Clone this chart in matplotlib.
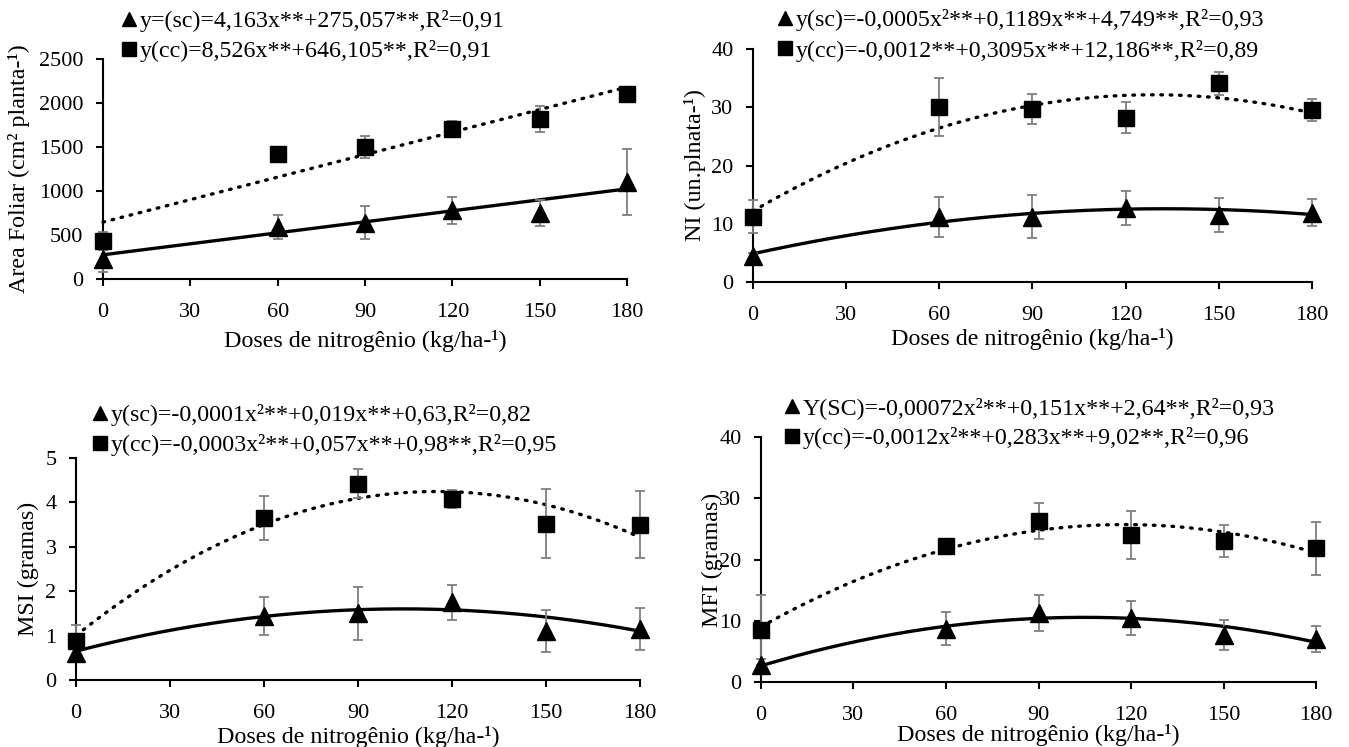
import numpy as np
import matplotlib
matplotlib.use('Agg')
import matplotlib.pyplot as plt
from matplotlib.lines import Line2D

plt.rcParams['font.family'] = ['Liberation Serif', 'DejaVu Serif']
plt.rcParams['font.size'] = 17.3

# doses de N (kg/ha)
doses = [0, 60, 90, 120, 150, 180]

# Area foliar
af_sc = [230, 590, 640, 780, 750, 1100]
af_sc_err = [150, 140, 185, 150, 150, 375]
af_cc = [430, 1420, 1500, 1710, 1820, 2100]
af_cc_err = [100, 30, 130, 80, 150, 40]
af_sc_coef = [4.163, 275.057]
af_cc_coef = [8.526, 646.105]

# NI
ni_sc = [4.5, 11.2, 11.2, 12.7, 11.5, 11.9]
ni_sc_err = [0.5, 3.4, 3.7, 2.9, 3.0, 2.3]
ni_cc = [11.2, 30.1, 29.7, 28.2, 34.1, 29.5]
ni_cc_err = [2.8, 5.0, 2.6, 2.7, 2.0, 1.9]
ni_sc_coef = [-0.00044, 0.1166, 4.85]
ni_cc_coef = [-0.0012, 0.3095, 12.186]

# MSI
msi_sc = [0.6, 1.45, 1.5, 1.75, 1.1, 1.15]
msi_sc_err = [0.1, 0.43, 0.6, 0.4, 0.47, 0.48]
msi_cc = [0.87, 3.65, 4.42, 4.08, 3.52, 3.5]
msi_cc_err = [0.37, 0.49, 0.33, 0.2, 0.78, 0.76]
msi_sc_coef = [-0.0000875, 0.01825, 0.65]
msi_cc_coef = [-0.000245, 0.0564, 1.0]

# MFI
mfi_sc = [2.7, 8.7, 11.3, 10.4, 7.7, 7.0]
mfi_sc_err = [1.1, 2.7, 2.9, 2.75, 2.5, 2.1]
mfi_cc = [8.5, 22.2, 26.3, 24.0, 23.0, 21.8]
mfi_cc_err = [5.7, 0.5, 3.0, 3.85, 2.6, 4.4]
mfi_sc_coef = [-0.00072, 0.151, 2.64]
mfi_cc_coef = [-0.0012, 0.283, 9.02]

fig = plt.figure(figsize=(13.49, 7.47), dpi=100)

paineis = [
    dict(rect=[0.07635, 0.62651, 0.38843, 0.29451], sc=af_sc, sce=af_sc_err, cc=af_cc, cce=af_cc_err,
         csc=af_sc_coef, ccc=af_cc_coef, ylim=(0, 2500), yt=[0, 500, 1000, 1500, 2000, 2500],
         ylabel='Area Foliar (cm² planta-¹)', ylx=-0.139, xly=-0.232,
         leg=(0.0904, 0.9866),
         l1='y=(sc)=4,163x**+275,057**,R²=0,91', l2='y(cc)=8,526x**+646,105**,R²=0,91'),
    dict(rect=[0.55819, 0.62249, 0.41438, 0.31191], sc=ni_sc, sce=ni_sc_err, cc=ni_cc, cce=ni_cc_err,
         csc=ni_sc_coef, ccc=ni_cc_coef, ylim=(0, 40), yt=[0, 10, 20, 30, 40],
         ylabel='NI (un.plnata-¹)', ylx=-0.084, xly=-0.197,
         leg=(0.5767, 0.9876),
         l1='y(sc)=-0,0005x²**+0,1189x**+4,749**,R²=0,93', l2='y(cc)=-0,0012**+0,3095x**+12,186**,R²=0,89'),
    dict(rect=[0.05634, 0.08969, 0.41809, 0.29719], sc=msi_sc, sce=msi_sc_err, cc=msi_cc, cce=msi_cc_err,
         csc=msi_sc_coef, ccc=msi_cc_coef, ylim=(0, 5), yt=[0, 1, 2, 3, 4, 5],
         ylabel='MSI (gramas)', ylx=-0.066, xly=-0.205,
         leg=(0.0689, 0.4591),
         l1='y(sc)=-0,0001x²**+0,019x**+0,63,R²=0,82', l2='y(cc)=-0,0003x²**+0,057x**+0,98**,R²=0,95'),
    dict(rect=[0.56412, 0.0870, 0.41142, 0.32798], sc=mfi_sc, sce=mfi_sc_err, cc=mfi_cc, cce=mfi_cc_err,
         csc=mfi_sc_coef, ccc=mfi_cc_coef, ylim=(0, 40), yt=[0, 10, 20, 30, 40],
         ylabel='MFI (gramas)', ylx=-0.068, xly=-0.172,
         leg=(0.5819, 0.4685),
         l1='Y(SC)=-0,00072x²**+0,151x**+2,64**,R²=0,93', l2='y(cc)=-0,0012x²**+0,283x**+9,02**,R²=0,96'),
]

xx = np.linspace(0, 180, 200)

for p in paineis:
    ax = fig.add_axes(p['rect'])
    # linhas de tendencia
    ax.plot(xx, np.polyval(p['csc'], xx), color='black', lw=2.4, zorder=2, clip_on=False)
    ax.plot(xx, np.polyval(p['ccc'], xx), color='black', lw=2.4, linestyle=(0, (0.5, 2.3)),
            dash_capstyle='round', zorder=2, clip_on=False)
    # barras de erro
    ax.errorbar(doses, p['sc'], yerr=p['sce'], fmt='none', ecolor='#7f7f7f', elinewidth=1.3,
                capsize=3.5, capthick=1.3, zorder=3, clip_on=False)
    ax.errorbar(doses, p['cc'], yerr=p['cce'], fmt='none', ecolor='#7f7f7f', elinewidth=1.3,
                capsize=3.5, capthick=1.3, zorder=3, clip_on=False)
    # pontos
    ax.plot(doses, p['sc'], '^', color='black', markersize=13.5, zorder=4, clip_on=False)
    ax.plot(doses, p['cc'], 's', color='black', markersize=12, zorder=4, clip_on=False)

    ax.set_xlim(0, 180)
    ax.set_ylim(*p['ylim'])
    ax.set_xticks([0, 30, 60, 90, 120, 150, 180])
    ax.set_yticks(p['yt'])
    for s in ['top', 'right']:
        ax.spines[s].set_visible(False)
    ax.spines['left'].set_linewidth(1.5)
    ax.spines['bottom'].set_linewidth(1.5)
    ax.tick_params(direction='out', length=5, width=1.5, labelsize=16)
    ax.tick_params(axis='x', pad=12)
    ax.tick_params(axis='y', pad=9)
    ax.set_xlabel('Doses de nitrogênio (kg/ha-¹)')
    ax.set_ylabel(p['ylabel'])
    ax.xaxis.set_label_coords(0.5, p['xly'])
    ax.yaxis.set_label_coords(p['ylx'], 0.5)

    handles = [Line2D([], [], marker='^', color='black', linestyle='none', markersize=10.5),
               Line2D([], [], marker='s', color='black', linestyle='none', markersize=10.5)]
    ax.legend(handles, [p['l1'], p['l2']], loc='upper left', bbox_to_anchor=p['leg'],
              bbox_transform=fig.transFigure, frameon=False, handlelength=0.6,
              handletextpad=0.15, borderpad=0, borderaxespad=0, labelspacing=0.35,
              fontsize=17.3)

fig.savefig('out.png', dpi=100)
